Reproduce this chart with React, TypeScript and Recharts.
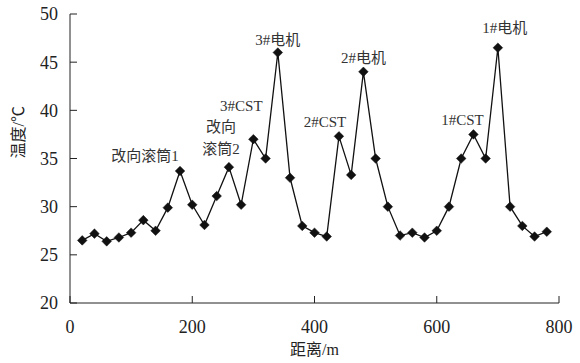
import React from 'react';
import { LineChart, Line, XAxis, YAxis, LabelList, Label } from 'recharts';

// distance along the conveyor (m)
const distances = [
  20, 40, 60, 80, 100, 120, 140, 160, 180, 200, 220, 240, 260, 280, 300, 320, 340, 360, 380, 400,
  420, 440, 460, 480, 500, 520, 540, 560, 580, 600, 620, 640, 660, 680, 700, 720, 740, 760, 780,
];
// measured temperature (°C)
const temps = [
  26.5, 27.2, 26.4, 26.8, 27.3, 28.6, 27.5, 29.9, 33.7, 30.2, 28.1, 31.1, 34.1, 30.2, 37.0, 35.0, 46.0, 33.0, 28.0, 27.3,
  26.9, 37.3, 33.3, 44.0, 35.0, 30.0, 27.0, 27.3, 26.8, 27.5, 30.0, 35.0, 37.5, 35.0, 46.5, 30.0, 28.0, 26.9, 27.4,
];
// annotated points
const noteAt = [180, 260, 300, 340, 440, 480, 660, 700];
const noteText = ['改向滚筒1', '改向\n滚筒2', '3#CST', '3#电机', '2#CST', '2#电机', '1#CST', '1#电机'];

const xTicks = [0, 200, 400, 600, 800];
const yTicks = [20, 25, 30, 35, 40, 45, 50];

const data = distances.map((d, i) => {
  const k = noteAt.indexOf(d);
  return { d, t: temps[i], note: k >= 0 ? noteText[k] : '' };
});

const FONT = '"Liberation Serif", "Times New Roman", "Noto Sans CJK SC", serif';

// label offsets from the marker (px)
const noteOffset: Record<string, [number, number]> = {
  '改向滚筒1': [-35, -15],
  '改向\n滚筒2': [-8, -18],
  '3#CST': [-12, -33],
  '3#电机': [0, -13],
  '2#CST': [-14, -14],
  '2#电机': [0, -14],
  '1#CST': [-11, -14],
  '1#电机': [7, -20],
};

const Diamond = (props: any) => {
  const { cx, cy, index } = props;
  if (cx == null || cy == null) return null;
  const r = 4.8;
  return (
    <path
      key={`dot-${index}`}
      d={`M${cx},${cy - r}L${cx + r},${cy}L${cx},${cy + r}L${cx - r},${cy}Z`}
      fill="#111"
      stroke="#111"
      strokeWidth={0.5}
    />
  );
};

const renderNote = (props: any) => {
  const { x, y, value, index } = props;
  if (!value) return null;
  const [dx, dy] = noteOffset[value] || [0, -14];
  const lines = String(value).split('\n');
  const lh = 22;
  const top = y + dy - (lines.length - 1) * lh;
  return (
    <text
      key={`note-${index}`}
      x={x + dx}
      y={top}
      textAnchor="middle"
      dominantBaseline="central"
      fontFamily={FONT}
      fontSize={15}
      fill="#333"
    >
      {lines.map((l, i) => (
        <tspan key={i} x={x + dx} y={top + i * lh}>
          {l}
        </tspan>
      ))}
    </text>
  );
};

const App: React.FC = () => {
  return (
    <div style={{ position: 'absolute', left: 0, top: 0, width: 580, height: 363, background: '#fff' }}>
      <LineChart width={580} height={363} data={data} margin={{ top: 14, right: 21, bottom: 20, left: 10 }}>
        <XAxis
          dataKey="d"
          type="number"
          domain={[0, 800]}
          ticks={xTicks}
          height={40}
          tickSize={-7}
          tickMargin={24}
          stroke="#222"
          tick={{ fill: '#222', fontSize: 18, fontFamily: FONT }}
        >
          <Label value="距离/m" position="insideBottom" offset={-12} fill="#222" fontSize={16} fontFamily={FONT} />
        </XAxis>
        <YAxis
          dataKey="t"
          type="number"
          domain={[20, 50]}
          ticks={yTicks}
          width={60}
          tickSize={-7}
          tickMargin={19}
          stroke="#222"
          tick={{ fill: '#222', fontSize: 18, fontFamily: FONT }}
        >
          <Label
            value="温度/℃"
            angle={-90}
            position="insideLeft"
            offset={8}
            fill="#222"
            fontSize={16}
            fontFamily={FONT}
          />
        </YAxis>
        <Line
          dataKey="t"
          stroke="#111"
          strokeWidth={1.3}
          dot={Diamond}
          activeDot={false}
          isAnimationActive={false}
        >
          <LabelList dataKey="note" content={renderNote} />
        </Line>
      </LineChart>
    </div>
  );
};

export default App;
